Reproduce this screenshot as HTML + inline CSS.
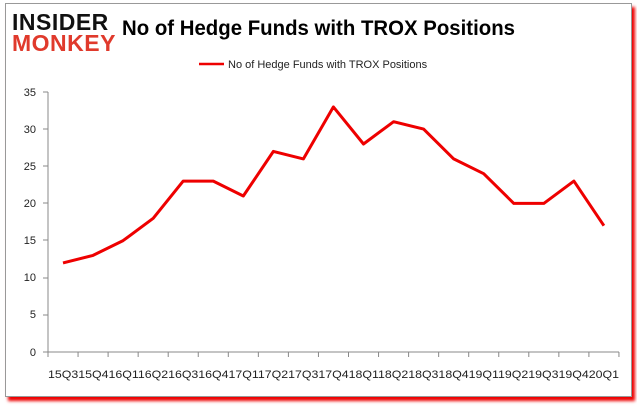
<!DOCTYPE html>
<html><head><meta charset="utf-8"><style>
body{margin:0;width:637px;height:408px;background:#fff;overflow:hidden;font-family:"Liberation Sans","DejaVu Sans",sans-serif}
.frame{position:absolute;left:5px;top:3px;width:625px;height:392px;border:1px solid #999;background:#fff;box-shadow:3px 4px 3px #e00}
</style></head><body>
<div class="frame"></div>
<svg width="637" height="408" style="position:absolute;left:0;top:0">
<text x="12" y="30" font-size="23" font-weight="bold" fill="#111" letter-spacing="0.5">INSIDER</text>
<text x="12" y="51" font-size="23" font-weight="bold" fill="#e03a2c" letter-spacing="0.5">MONKEY</text>
<text x="122" y="35" font-size="21" font-weight="bold" fill="#000" textLength="393" lengthAdjust="spacingAndGlyphs">No of Hedge Funds with TROX Positions</text>
<line x1="199" y1="64" x2="224" y2="64" stroke="#e00" stroke-width="2.5"/>
<text x="228" y="68" font-size="11" fill="#222">No of Hedge Funds with TROX Positions</text>
<g font-size="11" fill="#222" text-anchor="end">
<text x="36" y="96">35</text><text x="36" y="133">30</text><text x="36" y="170">25</text><text x="36" y="207">20</text><text x="36" y="244">15</text><text x="36" y="281">10</text><text x="36" y="318">5</text><text x="36" y="356">0</text>
</g>
<g stroke="#888" stroke-width="1">
<line x1="48" y1="92" x2="48" y2="352"/>
<line x1="48" y1="352" x2="619" y2="352"/>
<line x1="43" y1="92" x2="48" y2="92"/><line x1="43" y1="129" x2="48" y2="129"/><line x1="43" y1="166" x2="48" y2="166"/><line x1="43" y1="203" x2="48" y2="203"/><line x1="43" y1="240" x2="48" y2="240"/><line x1="43" y1="278" x2="48" y2="278"/><line x1="43" y1="315" x2="48" y2="315"/><line x1="43" y1="352" x2="48" y2="352"/>
</g>
<g stroke="#888" id="xt"></g>
<text x="48" y="378" font-size="11" fill="#222" textLength="571" lengthAdjust="spacingAndGlyphs">15Q315Q416Q116Q216Q316Q417Q117Q217Q317Q418Q118Q218Q318Q419Q119Q219Q319Q420Q1</text>
<polyline id="pl" fill="none" stroke="#e00" stroke-width="3" stroke-linejoin="round" points=""/>
</svg>
<script>
var d=[12,13,15,18,23,23,21,27,26,33,28,31,30,26,24,20,20,23,17],p=[];
for(var i=0;i<d.length;i++)p.push((63+i*30.05).toFixed(1)+","+(352-d[i]*260/35).toFixed(1));
document.getElementById("pl").setAttribute("points",p.join(" "));
var g=document.getElementById("xt"),s="";
for(var i=0;i<=19;i++){var x=48+i*30.05;s+='<line x1="'+x+'" y1="352" x2="'+x+'" y2="357"/>';}
g.innerHTML=s;
</script>
</body></html>
